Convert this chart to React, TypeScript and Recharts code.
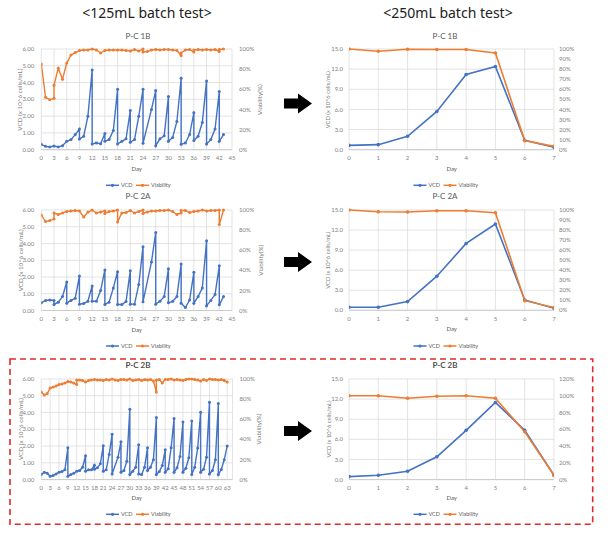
import React from 'react';
import { LineChart, Line, XAxis, YAxis, CartesianGrid } from 'recharts';

const BLUE = '#4472C4';
const ORANGE = '#ED7D31';
const FONT = 'Lato, "Noto Sans", sans-serif';
const TICK = '#7f7f7f';

// ---------- 125 mL batch test (day, value) ----------
const pc1bVcd125: [number, number][] = [
  [0, 0.32], [1, 0.2], [2, 0.16], [3, 0.22], [4, 0.16], [5, 0.24], [6, 0.5], [7, 0.6], [8, 0.9], [9, 1.23], [9, 0.63],
  [10, 0.8], [11, 2.0], [12, 4.75], [12, 0.34], [13, 0.4], [14, 0.36], [15, 0.97], [15, 0.5], [16, 0.6], [17, 1.15],
  [18, 3.6], [18, 0.34], [19, 0.5], [20, 0.65], [21, 2.34], [21, 0.44], [22, 0.6], [23, 2.0], [24, 3.6], [24, 0.38],
  [26, 2.4], [27, 3.52], [27, 0.24], [28, 0.65], [29, 0.83], [30, 3.17], [30, 0.5], [31, 0.73], [32, 1.68], [33, 4.26],
  [33, 0.32], [34, 0.4], [35, 0.9], [36, 2.2], [36, 0.55], [37, 0.8], [38, 1.62], [39, 4.1], [39, 0.34], [40, 0.6],
  [41, 1.23], [42, 3.47], [42, 0.5], [43, 0.9],
];
const pc1bViab125: [number, number][] = [
  [0, 85], [1, 52], [2, 49.5], [3, 51], [3, 64], [4, 81], [5, 70], [6, 86], [7, 94], [8, 96.5], [9, 98.5], [10, 99],
  [11, 99], [12, 100], [13, 99], [14, 96], [15, 98.5], [16, 99], [17, 99], [18, 99], [19, 99], [20, 98.5], [21, 98],
  [22, 99.5], [23, 98], [24, 100], [24, 97], [25, 97.5], [26, 99], [27, 99.5], [28, 99], [29, 99.5], [30, 99.5],
  [31, 99], [32, 98.5], [33, 93.5], [33, 96], [34, 99], [35, 99.5], [36, 97], [36, 99], [37, 99.5], [38, 99],
  [39, 99.5], [40, 99], [41, 99.5], [42, 97.5], [42, 99.5], [43, 100],
];
const pc2aVcd125: [number, number][] = [
  [0, 0.46], [1, 0.6], [2, 0.63], [3, 0.6], [3, 0.36], [4, 0.5], [5, 0.83], [6, 1.7], [6, 0.44], [7, 0.6], [8, 0.73],
  [9, 2.06], [9, 0.38], [10, 0.42], [11, 0.55], [12, 1.47], [12, 0.55], [13, 0.55], [14, 1.19], [15, 2.42], [15, 0.36],
  [16, 0.5], [17, 1.35], [18, 2.32], [18, 0.36], [19, 0.36], [20, 0.53], [21, 2.38], [21, 0.38], [22, 0.38], [23, 1.55],
  [24, 3.8], [24, 0.52], [26, 2.9], [27, 4.65], [27, 0.38], [28, 0.55], [29, 0.83], [30, 2.5], [30, 0.46], [31, 0.55],
  [32, 0.83], [33, 2.77], [33, 0.44], [34, 0.18], [35, 0.62], [36, 2.28], [36, 0.44], [37, 0.83], [38, 1.35],
  [39, 4.16], [39, 0.28], [40, 0.6], [41, 0.95], [42, 2.67], [42, 0.34], [43, 0.83],
];
const pc2aViab125: [number, number][] = [
  [0, 95], [1, 88.5], [2, 89.5], [3, 91], [3, 97], [4, 95.5], [5, 97], [6, 98.5], [7, 99], [8, 99.5], [9, 99], [10, 93],
  [11, 98], [12, 100], [13, 97], [14, 98], [15, 99], [15, 96.5], [16, 98.5], [17, 99], [18, 100], [18, 88], [19, 97],
  [20, 97.5], [21, 99.5], [22, 97], [23, 98.5], [24, 100], [24, 96.5], [25, 98], [26, 99], [27, 99], [28, 99.5],
  [29, 99.5], [30, 100], [31, 98.5], [32, 95.5], [33, 97], [33, 99.5], [34, 99.5], [35, 97.5], [36, 98.5], [37, 99],
  [38, 100], [39, 99], [40, 99.5], [41, 99.5], [42, 100], [42, 85.5], [43, 100],
];
const pc2bVcd125: [number, number][] = [
  [0, 0.3], [1, 0.44], [2, 0.38], [3, 0.2], [4, 0.24], [5, 0.34], [6, 0.44], [7, 0.48], [8, 0.58], [9, 1.9], [9, 0.2],
  [10, 0.3], [11, 0.38], [12, 0.5], [13, 0.54], [14, 0.74], [15, 1.42], [15, 0.5], [16, 0.58], [17, 0.58], [18, 0.86],
  [18, 0.62], [19, 0.7], [20, 0.94], [21, 2.02], [21, 0.5], [22, 0.58], [23, 1.5], [24, 2.7], [24, 0.34], [26, 1.34],
  [27, 2.26], [27, 0.44], [28, 0.54], [29, 1.1], [30, 4.2], [30, 0.3], [31, 0.5], [32, 0.74], [33, 2.08], [33, 0.34],
  [34, 0.3], [35, 0.74], [36, 1.9], [36, 0.54], [37, 0.74], [38, 1.18], [39, 3.7], [39, 0.3], [40, 0.48], [41, 0.84],
  [42, 1.78], [42, 0.44], [43, 0.64], [44, 1.9], [45, 3.64], [45, 0.44], [46, 0.7], [47, 1.38], [48, 3.44], [48, 0.44],
  [49, 0.68], [50, 1.3], [51, 3.5], [51, 0.3], [52, 0.74], [53, 1.88], [54, 4.02], [54, 0.44], [55, 0.62], [56, 1.34],
  [57, 4.62], [57, 0.34], [58, 0.54], [59, 1.18], [60, 4.54], [60, 0.3], [61, 0.6], [62, 1.18], [63, 2.0],
];
const pc2bViab125: [number, number][] = [
  [0, 87], [1, 84], [2, 85.5], [3, 91], [4, 92], [5, 93], [6, 94.5], [7, 95], [8, 96], [9, 97.5], [10, 97], [11, 96],
  [12, 94.5], [12, 99], [13, 99], [14, 98.5], [15, 97], [16, 98.5], [17, 99], [18, 99.5], [19, 99], [20, 99],
  [21, 98.5], [22, 99.5], [23, 99], [24, 100], [25, 99], [26, 98.5], [27, 99.5], [28, 99.5], [29, 99], [30, 100],
  [31, 98.5], [32, 99], [33, 99.5], [34, 98.5], [35, 99.5], [36, 99], [37, 99.5], [38, 98], [39, 87], [39, 99],
  [40, 99.5], [41, 96], [42, 99.5], [43, 99.5], [44, 100], [45, 99], [46, 99.5], [47, 99], [48, 98.5], [49, 99.5],
  [50, 100], [51, 100], [52, 99.5], [53, 99], [54, 98], [55, 99.5], [56, 98.5], [57, 100], [58, 99.5], [59, 99.5],
  [60, 99], [61, 99.5], [62, 98.5], [63, 97],
];

// ---------- 250 mL batch test ----------
const batchDays = [0, 1, 2, 3, 4, 5, 6, 7];
const pc1bVcd250 = [0.65, 0.75, 2.0, 5.7, 11.2, 12.4, 1.4, 0.35];
const pc1bViab250 = [100, 97.7, 99.7, 99.5, 99.5, 96, 9, 3.3];
const pc2aVcd250 = [0.45, 0.45, 1.3, 5.1, 10.0, 12.9, 1.55, 0.3];
const pc2aViab250 = [100, 98.3, 98, 99.3, 99.3, 97.3, 9.6, 2.7];
const pc2bVcd250 = [0.45, 0.65, 1.24, 3.4, 7.35, 11.5, 7.35, 0.65];
const pc2bViab250 = [100, 100, 97, 99.5, 100, 97, 57, 5];

// ---------- ticks ----------
const ticks45 = [0, 3, 6, 9, 12, 15, 18, 21, 24, 27, 30, 33, 36, 39, 42, 45];
const ticks63 = [0, 3, 6, 9, 12, 15, 18, 21, 24, 27, 30, 33, 36, 39, 42, 45, 48, 51, 54, 57, 60, 63];
const ticksVcd6 = [0, 1, 2, 3, 4, 5, 6];
const ticksVcd15 = [0, 3, 6, 9, 12, 15];
const ticksPct20 = [0, 20, 40, 60, 80, 100];
const ticksPct10 = [0, 10, 20, 30, 40, 50, 60, 70, 80, 90, 100];
const ticksPct120 = [0, 20, 40, 60, 80, 100, 120];

const pairs = (p: [number, number][]) => p.map(([d, v]) => ({ d, v }));
const zip = (days: number[], vals: number[]) => days.map((d, i) => ({ d, v: vals[i] }));

type PanelProps = {
  plot: { l: number; r: number; t: number; b: number };
  box: { L: number; W: number };
  xDomain: [number, number];
  xTicks: number[];
  yMax: number;
  yTicks: number[];
  yFmt: (v: number) => string;
  rMax: number;
  rTicks: number[];
  vcd: { d: number; v: number }[];
  viab: { d: number; v: number }[];
  dotR: number;
  sw: number;
  yTm: number;
  rTm: number;
};

function Panel(p: PanelProps) {
  const T = p.plot.t - 10;
  const H = p.plot.b + 16 - T;
  const leftW = p.plot.l - p.box.L;
  const rightW = p.box.L + p.box.W - p.plot.r;
  const tickStyle = { fontSize: 6, fill: TICK, fontFamily: FONT };
  return (
    <div style={{ position: 'absolute', left: p.box.L, top: T, width: p.box.W, height: H }}>
      <LineChart width={p.box.W} height={H} margin={{ top: 10, right: 0, bottom: 0, left: 0 }}>
        <CartesianGrid stroke="#dcdcdc" strokeWidth={0.8} yAxisId="l" />
        <XAxis
          type="number"
          dataKey="d"
          domain={p.xDomain}
          ticks={p.xTicks}
          interval={0}
          allowDataOverflow
          height={16}
          tickLine={false}
          tickSize={0}
          tickMargin={6}
          axisLine={{ stroke: '#cccccc' }}
          tick={tickStyle}
        />
        <YAxis
          yAxisId="l"
          domain={[0, p.yMax]}
          ticks={p.yTicks}
          interval={0}
          width={leftW}
          tickLine={false}
          tickSize={0}
          tickMargin={p.yTm}
          axisLine={false}
          tick={tickStyle}
          tickFormatter={p.yFmt}
        />
        <YAxis
          yAxisId="r"
          orientation="right"
          domain={[0, p.rMax]}
          ticks={p.rTicks}
          interval={0}
          width={rightW}
          tickLine={false}
          tickSize={0}
          tickMargin={p.rTm}
          axisLine={false}
          tick={{ ...tickStyle, textAnchor: 'start' }}
          tickFormatter={(v: number) => `${v}%`}
        />
        <Line
          yAxisId="l"
          data={p.vcd}
          dataKey="v"
          name="VCD"
          type="linear"
          stroke={BLUE}
          strokeWidth={p.sw}
          dot={{ r: p.dotR, fill: BLUE, stroke: BLUE, strokeWidth: 0 }}
          activeDot={false}
          isAnimationActive={false}
        />
        <Line
          yAxisId="r"
          data={p.viab}
          dataKey="v"
          name="Viability"
          type="linear"
          stroke={ORANGE}
          strokeWidth={p.sw}
          dot={{ r: p.dotR, fill: ORANGE, stroke: ORANGE, strokeWidth: 0 }}
          activeDot={false}
          isAnimationActive={false}
        />
      </LineChart>
    </div>
  );
}

function LegendRow({ cx, y }: { cx: number; y: number }) {
  const items = [
    { x: cx - 33, color: BLUE, label: 'VCD' },
    { x: cx - 3, color: ORANGE, label: 'Viability' },
  ];
  return (
    <g>
      {items.map((it) => (
        <g key={it.label}>
          <line x1={it.x} y1={y} x2={it.x + 13} y2={y} stroke={it.color} strokeWidth={1.5} />
          <circle cx={it.x + 6.5} cy={y} r={1.6} fill={it.color} />
          <text x={it.x + 15} y={y} dominantBaseline="central" fontSize={5.5} fill="#595959" fontFamily={FONT}>
            {it.label}
          </text>
        </g>
      ))}
    </g>
  );
}

function Arrow({ cy }: { cy: number }) {
  const pts = [
    [284, cy - 5],
    [298, cy - 5],
    [298, cy - 10],
    [312, cy],
    [298, cy + 10],
    [298, cy + 5],
    [284, cy + 5],
  ]
    .map((q) => q.join(','))
    .join(' ');
  return <polygon points={pts} fill="#000" />;
}

function VTitle({ x, y, text, size }: { x: number; y: number; text: string; size: number }) {
  return (
    <text
      x={x}
      y={y}
      transform={`rotate(-90 ${x} ${y})`}
      textAnchor="middle"
      dominantBaseline="central"
      fontSize={size}
      fill="#7f7f7f"
      fontFamily={FONT}
    >
      {text}
    </text>
  );
}

const fmt2 = (v: number) => v.toFixed(2);
const fmt1 = (v: number) => v.toFixed(1);

const leftBox = { L: 0, W: 275 };
const rightBox = { L: 300, W: 290 };

export default function App() {
  const L1 = { l: 41.3, r: 232, t: 49.3, b: 150 };
  const L2 = { l: 41.3, r: 232, t: 210, b: 310.5 };
  const L3 = { l: 41.3, r: 232.5, t: 378.7, b: 479.3 };
  const R1 = { l: 349, r: 554, t: 49.3, b: 150 };
  const R2 = { l: 349, r: 554, t: 210, b: 310.3 };
  const R3 = { l: 349, r: 554, t: 378.7, b: 479.3 };
  const cyOf = (pl: { t: number; b: number }) => (pl.t + pl.b) / 2;

  const leftCommon = {
    box: leftBox,
    yMax: 6,
    yTicks: ticksVcd6,
    yFmt: fmt2,
    rMax: 100,
    rTicks: ticksPct20,
    dotR: 1.5,
    sw: 1.4,
    yTm: 7,
    rTm: 7,
  };
  const rightCommon = {
    box: rightBox,
    xDomain: [0, 7] as [number, number],
    xTicks: batchDays,
    yMax: 15,
    yTicks: ticksVcd15,
    yFmt: fmt1,
    dotR: 1.8,
    sw: 1.6,
    yTm: 6,
    rTm: 5,
  };

  return (
    <div style={{ position: 'absolute', left: 0, top: 0, width: 608, height: 535, background: '#fff', overflow: 'hidden' }}>
      <Panel {...leftCommon} plot={L1} xDomain={[0, 45]} xTicks={ticks45} vcd={pairs(pc1bVcd125)} viab={pairs(pc1bViab125)} />
      <Panel {...leftCommon} plot={L2} xDomain={[0, 45]} xTicks={ticks45} vcd={pairs(pc2aVcd125)} viab={pairs(pc2aViab125)} />
      <Panel {...leftCommon} plot={L3} xDomain={[0, 64.8]} xTicks={ticks63} vcd={pairs(pc2bVcd125)} viab={pairs(pc2bViab125)} />
      <Panel {...rightCommon} plot={R1} rMax={100} rTicks={ticksPct10} vcd={zip(batchDays, pc1bVcd250)} viab={zip(batchDays, pc1bViab250)} />
      <Panel {...rightCommon} plot={R2} rMax={100} rTicks={ticksPct10} vcd={zip(batchDays, pc2aVcd250)} viab={zip(batchDays, pc2aViab250)} />
      <Panel {...rightCommon} plot={R3} rMax={120} rTicks={ticksPct120} vcd={zip(batchDays, pc2bVcd250)} viab={zip(batchDays, pc2bViab250)} />

      <svg width={608} height={535} style={{ position: 'absolute', left: 0, top: 0, pointerEvents: 'none' }}>
        <text x={147} y={12.5} textAnchor="middle" dominantBaseline="central" fontSize={14} fill="#222" fontFamily='"Noto Sans", sans-serif'>
          {'<125mL batch test>'}
        </text>
        <text x={448} y={12.5} textAnchor="middle" dominantBaseline="central" fontSize={14} fill="#222" fontFamily='"Noto Sans", sans-serif'>
          {'<250mL batch test>'}
        </text>

        <text x={138} y={36} textAnchor="middle" dominantBaseline="central" fontSize={8} fill="#595959" fontFamily={FONT}>P-C 1B</text>
        <text x={445} y={36} textAnchor="middle" dominantBaseline="central" fontSize={8} fill="#595959" fontFamily={FONT}>P-C 1B</text>
        <text x={138} y={196} textAnchor="middle" dominantBaseline="central" fontSize={8} fill="#595959" fontFamily={FONT}>P-C 2A</text>
        <text x={445} y={196} textAnchor="middle" dominantBaseline="central" fontSize={8} fill="#595959" fontFamily={FONT}>P-C 2A</text>
        <text x={138} y={365} textAnchor="middle" dominantBaseline="central" fontSize={8} fontWeight="bold" fill="#505050" fontFamily={FONT}>P-C 2B</text>
        <text x={445} y={365} textAnchor="middle" dominantBaseline="central" fontSize={8} fontWeight="bold" fill="#505050" fontFamily={FONT}>P-C 2B</text>

        <VTitle x={20} y={cyOf(L1)} text="VCD (x 10^6 cells/mL)" size={6.3} />
        <VTitle x={20} y={cyOf(L2)} text="VCD (x 10^6 cells/mL)" size={6.3} />
        <VTitle x={20} y={cyOf(L3)} text="VCD (x 10^6 cells/mL)" size={6.3} />
        <VTitle x={260} y={cyOf(L1)} text="Viability(%)" size={6.3} />
        <VTitle x={260} y={cyOf(L2)} text="Viability(%)" size={6.3} />
        <VTitle x={258} y={cyOf(L3)} text="Viability(%)" size={6.3} />
        <VTitle x={328} y={cyOf(R1)} text="VCD (x 10^6 cells/mL)" size={5.8} />
        <VTitle x={328} y={cyOf(R2)} text="VCD (x 10^6 cells/mL)" size={5.8} />
        <VTitle x={328} y={cyOf(R3)} text="VCD (x 10^6 cells/mL)" size={5.8} />

        <text x={136.7} y={168} textAnchor="middle" dominantBaseline="central" fontSize={6} fill="#595959" fontFamily={FONT}>Day</text>
        <text x={136.7} y={329} textAnchor="middle" dominantBaseline="central" fontSize={6} fill="#595959" fontFamily={FONT}>Day</text>
        <text x={136.7} y={497} textAnchor="middle" dominantBaseline="central" fontSize={6} fill="#595959" fontFamily={FONT}>Day</text>
        <text x={451.7} y={168} textAnchor="middle" dominantBaseline="central" fontSize={6} fill="#595959" fontFamily={FONT}>Day</text>
        <text x={451.7} y={328} textAnchor="middle" dominantBaseline="central" fontSize={6} fill="#595959" fontFamily={FONT}>Day</text>
        <text x={451.7} y={497} textAnchor="middle" dominantBaseline="central" fontSize={6} fill="#595959" fontFamily={FONT}>Day</text>

        <LegendRow cx={139} y={185.3} />
        <LegendRow cx={446.5} y={185.3} />
        <LegendRow cx={139} y={346} />
        <LegendRow cx={446.5} y={346} />
        <LegendRow cx={139} y={514.3} />
        <LegendRow cx={446.5} y={514.3} />

        <Arrow cy={103.5} />
        <Arrow cy={262} />
        <Arrow cy={431} />

        <rect x={10} y={359} width={582.7} height={165.3} fill="none" stroke="#e02b2b" strokeWidth={1.6} strokeDasharray="6 4" />
      </svg>
    </div>
  );
}
